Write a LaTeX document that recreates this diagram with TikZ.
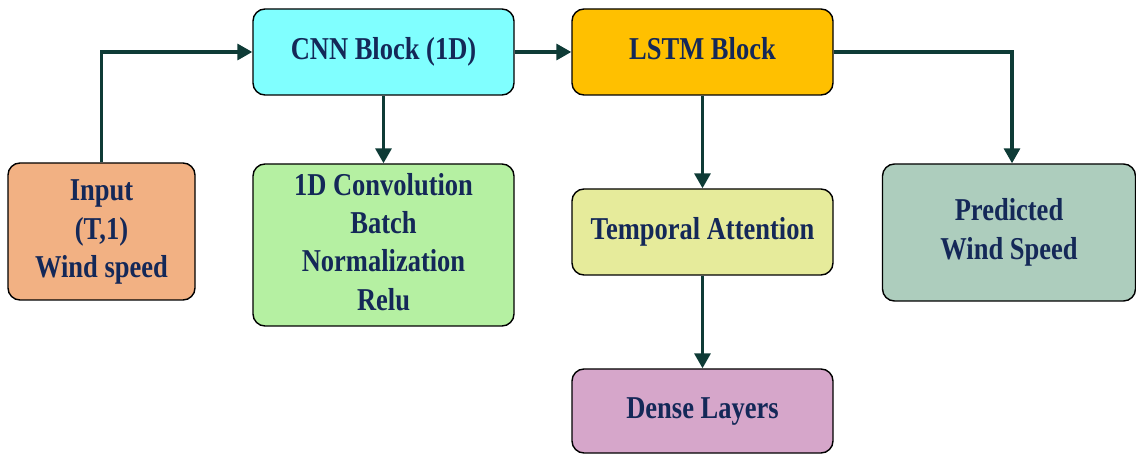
\documentclass[tikz,border=0pt]{standalone}
\usepackage{fontspec}
\setmainfont{Liberation Serif}
\usetikzlibrary{arrows.meta,calc}

\definecolor{txtblue}{HTML}{142858}
\definecolor{arrowcol}{HTML}{0E3B36}
\definecolor{inputfill}{HTML}{F2B183}
\definecolor{cnnfill}{HTML}{80FFFF}
\definecolor{convfill}{HTML}{B5F0A2}
\definecolor{lstmfill}{HTML}{FFC000}
\definecolor{attfill}{HTML}{E6EB9B}
\definecolor{densefill}{HTML}{D6A6CA}
\definecolor{predfill}{HTML}{ADCDBD}

% tall bold label, several lines centred
\newcommand{\blocktext}[1]{\scalebox{1}[1.2]{\begin{tabular}{@{}c@{}}#1\end{tabular}}}

\tikzset{
  blockbox/.style={draw=black, line width=1.4pt, rounded corners=12pt,
    inner sep=0pt, text=txtblue,
    font=\fontsize{26.5}{32}\selectfont\bfseries},
  flow/.style={draw=arrowcol, line width=3.3pt,
    -{Triangle[length=15pt,width=16pt]}}
}

\begin{document}
\begin{tikzpicture}[x=1pt,y=-1pt]
  \useasboundingbox (0,0) rectangle (1136,454);

  \node[blockbox, fill=inputfill, minimum width=187pt, minimum height=137pt]
    (input) at (101.5,231.5) {\blocktext{Input\\(T,1)\\Wind speed}};
  \node[blockbox, fill=cnnfill, minimum width=261pt, minimum height=86pt]
    (cnn) at (383.5,52) {\blocktext{CNN Block (1D)}};
  \node[blockbox, fill=convfill, minimum width=261pt, minimum height=162pt]
    (conv) at (383.5,245) {\blocktext{1D Convolution\\Batch\\Normalization\\Relu}};
  \node[blockbox, fill=lstmfill, minimum width=261pt, minimum height=86pt]
    (lstm) at (702.5,52) {\blocktext{LSTM Block}};
  \node[blockbox, fill=attfill, minimum width=261pt, minimum height=86pt]
    (att) at (702.5,232) {\blocktext{Temporal Attention}};
  \node[blockbox, fill=densefill, minimum width=261pt, minimum height=84pt]
    (dense) at (702.5,411) {\blocktext{Dense Layers}};
  \node[blockbox, fill=predfill, minimum width=253pt, minimum height=137pt]
    (pred) at (1009,232.5) {\blocktext{Predicted\\Wind Speed}};

  \coordinate (predin) at ($(pred.north)+(3,0)$);

  \draw[flow] (input.north) |- (cnn.west);
  \draw[flow] (cnn.south) -- (conv.north);
  \draw[flow] (cnn.east) -- (lstm.west);
  \draw[flow] (lstm.south) -- (att.north);
  \draw[flow] (att.south) -- (dense.north);
  \draw[flow] (lstm.east) -| (predin);
\end{tikzpicture}
\end{document}
